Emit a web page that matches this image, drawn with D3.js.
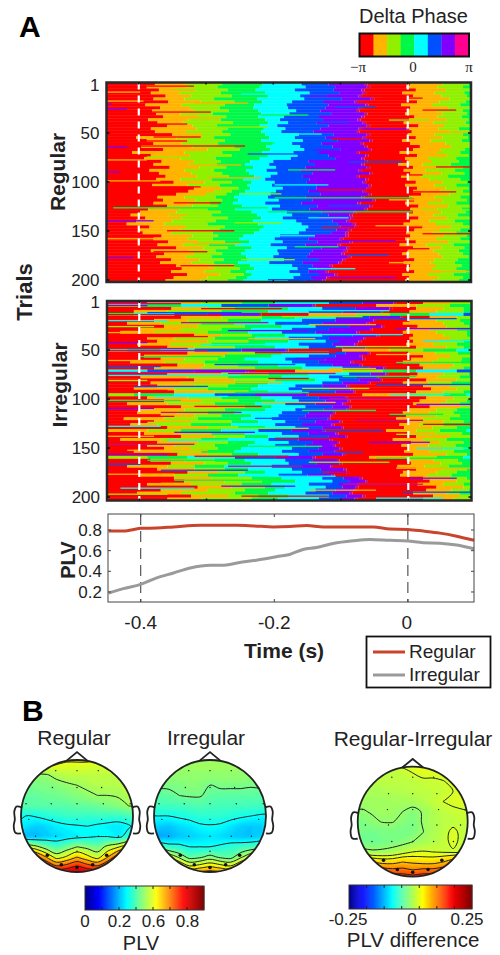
<!DOCTYPE html>
<html>
<head>
  <meta charset="utf-8" />
  <title>Delta phase and PLV</title>
  <script src="https://cdnjs.cloudflare.com/ajax/libs/d3/7.8.5/d3.min.js"></script>
  <style>
    body { margin: 0; background: #fff; }
    text { font-family: "Liberation Sans", Arial, sans-serif; fill: #222; }
  </style>
</head>
<body>
<div id="chart"></div>
<script>
// phase bands, red first. -pi .. pi
var phaseColors = ["#ff0000", "#ffb400", "#90f000", "#00f848", "#00ffff", "#0050ff", "#8000ff", "#ff0090"];
var rasterColors = ["#ff0000", "#ffb400", "#90f000", "#00f848", "#00ffff", "#0050ff", "#8000ff", "#c01088"];

// edges of the phase bands per row of 3 trials, ms after start of the window
var regularRows = [
  [72,118,172,232,290,330,383,388,452,500,538],[60,120,165,228,296,340,387,392,446,492,530],[78,132,180,222,280,338,379,384,460,505,540],
  [66,108,170,236,302,346,381,386,440,488,532],[88,126,186,240,288,328,375,380,456,498,536],[70,116,160,224,294,350,393,398,450,510,542],
  [92,140,190,232,276,322,369,374,462,495,534],[58,112,176,220,268,330,385,390,438,484,526],[80,124,168,218,270,326,375,380,452,508,540],
  [68,130,182,226,282,318,371,376,448,490,530],[74,110,158,230,272,334,383,388,444,500,536],[84,136,178,226,264,316,379,384,458,492,528],
  [62,122,170,236,258,322,373,378,450,506,538],[76,114,188,240,270,312,381,386,442,486,534],[90,128,164,228,254,330,387,392,464,502,541],
  [66,134,180,234,266,318,375,380,446,494,524],[72,118,172,230,260,308,371,376,454,510,539],[98,142,184,236,286,338,387,392,448,488,530],
  [44,104,160,242,280,326,381,386,460,500,537],[60,120,176,230,292,344,391,396,440,482,528],[70,112,166,246,276,320,377,382,452,504,540],
  [52,128,190,238,288,336,383,388,466,512,542],[84,150,198,244,294,348,389,394,456,496,533],[38,116,172,232,278,316,371,376,436,490,526],
  [66,124,186,240,284,330,385,390,462,506,538],[56,110,162,228,274,340,379,384,444,478,520],[82,130,170,214,248,300,383,388,450,484,524],
  [70,122,164,206,242,310,379,384,434,470,512],[94,138,178,218,252,296,387,392,456,492,530],[64,116,160,208,238,288,375,380,442,474,518],
  [78,126,172,212,254,306,391,396,452,498,532],[88,134,182,220,244,292,371,376,438,468,508],[74,110,156,204,236,302,385,390,448,480,526],
  [100,146,186,216,250,298,381,386,460,500,536],[68,120,168,210,246,312,389,394,444,488,520],[130,170,196,214,262,312,387,392,462,504,538],
  [122,160,186,206,252,300,381,386,456,496,530],[104,148,178,198,244,318,389,394,468,510,542],[76,116,162,190,240,296,379,384,450,488,526],
  [84,132,172,196,256,306,395,400,458,500,536],[70,120,154,188,236,290,373,378,444,478,520],[90,128,166,202,258,314,391,396,464,508,540],
  [62,108,150,192,246,302,383,388,452,492,528],[50,104,170,216,268,320,367,372,456,498,534],[36,92,156,224,276,330,361,366,448,486,522],
  [58,112,180,230,262,316,363,368,464,506,540],[44,98,162,218,282,336,357,362,452,480,518],[30,86,150,226,290,344,365,370,442,490,530],
  [64,118,176,234,300,348,369,374,470,512,542],[48,110,168,228,296,342,359,364,458,496,526],[54,96,158,220,286,334,355,360,446,484,520],
  [82,128,166,204,258,310,355,360,452,502,536],[70,120,158,198,250,300,347,352,444,490,526],[92,136,176,212,262,314,361,366,460,508,540],
  [76,114,152,192,244,296,343,348,436,476,516],[104,144,180,216,268,320,357,362,456,498,532],[66,124,162,206,254,306,353,358,448,486,524],
  [86,130,172,200,256,302,349,354,440,494,530],[74,118,156,208,248,298,359,364,450,500,538],[96,138,174,210,264,316,351,356,458,488,522],
  [80,126,160,196,242,292,345,350,442,482,518],[104,152,190,214,276,306,331,336,452,490,528],[112,160,198,220,284,312,335,340,446,484,520],
  [96,146,184,208,272,300,325,330,458,498,534],[120,168,204,216,288,316,339,344,440,478,516],[100,150,192,210,278,304,327,332,450,494,530],
  [88,140,180,204,270,296,321,326,444,486,524]
];

var irregularRows = [
  [60,140,200,250,330,380,426,430,470,510,540],[0,0,50,110,170,240,306,310,400,460,510,540],[96,150,190,270,320,370,420,424,460,500,530],
  [40,90,170,240,300,350,406,410,450,490,530],[0,0,0,40,100,150,226,230,300,370,420,480,530],[110,170,230,280,340,390,436,440,480,520],
  [70,120,180,230,290,340,396,400,450,490,525],[30,80,140,190,250,320,386,390,440,500,530],[85,135,205,260,310,360,408,412,462,505,538],
  [50,110,170,215,275,330,391,395,445,480,520],[20,70,150,210,260,310,371,375,440,490,535],[130,170,215,265,320,365,401,405,455,500,535],
  [60,100,160,220,270,330,381,385,450,510,540],[75,150,210,270,325,345,374,378,455,495,530],[45,95,155,235,285,335,368,372,445,485,520],
  [90,130,190,250,300,350,384,388,460,505,530],[0,0,30,80,130,200,266,270,350,420,470,520],[120,180,220,260,330,355,388,392,448,488,522],
  [55,125,175,245,300,340,376,380,470,510,540],[80,115,165,205,265,325,380,384,452,492,528],[35,85,145,225,275,315,362,366,440,484,526],
  [105,145,195,255,295,335,376,380,465,515,542],[70,140,220,290,350,390,411,415,470,510,530],[0,0,0,0,60,130,206,210,280,350,410,460,520],
  [90,170,240,300,360,392,414,418,462,500,538],[50,120,180,260,330,370,400,404,450,492,524],[130,190,250,310,345,375,406,410,475,520],
  [65,110,190,240,320,350,388,392,440,478,512],[75,130,180,225,280,320,356,360,470,510,540],[40,100,150,215,270,330,362,366,482,520],
  [100,160,210,240,290,340,366,370,460,500,530],[0,0,40,100,160,220,296,300,380,450,500,535],[60,120,170,230,275,315,354,358,475,515,540],
  [85,140,195,250,285,325,358,362,465,505,535],[30,90,160,220,265,310,350,354,455,495,525],[110,165,205,245,295,335,360,364,480,525],
  [50,115,175,235,280,322,356,360,450,490,520],[45,105,150,190,260,300,336,340,440,480,515],[80,130,170,215,255,295,332,336,445,490,525],
  [25,85,135,200,245,285,328,332,430,470,510],[70,125,185,225,265,310,346,350,450,500,530],[35,75,125,185,250,290,334,338,435,465,500],
  [90,150,195,235,280,320,348,352,442,484,520],[0,60,110,170,225,275,321,325,415,460,495,535],[55,110,155,205,260,300,340,344,448,488,528],
  [110,160,205,240,285,330,354,358,460,510,540],[20,80,140,180,240,285,331,335,425,470,505],[75,135,180,220,270,305,342,346,452,495,530],
  [60,100,160,210,250,295,336,340,438,478,518],[85,125,165,200,275,315,346,350,450,500,530],[40,95,140,190,260,300,338,342,442,480,516],
  [105,150,185,225,285,320,350,354,455,505,535],[0,0,60,120,190,250,306,310,390,445,490,530],[65,115,160,205,265,305,342,346,446,486,522],
  [95,145,180,215,270,312,346,350,452,496,528],[30,90,130,175,245,290,332,336,432,472,508],[75,130,175,210,275,318,352,356,460,498,535],
  [120,165,205,235,290,330,356,360,440,490,520],[50,100,150,195,255,298,334,338,436,476,512],[100,155,215,260,320,352,376,380,470,510,535],
  [115,175,230,280,335,360,384,388,480,520],[60,125,200,245,300,345,372,376,462,500,530],[135,185,235,265,325,350,370,374,490,530],
  [80,150,205,250,310,340,366,370,475,512,538],[45,110,190,240,295,335,361,365,455,505,525],[125,180,225,270,330,356,380,384,485,525],
  [90,140,215,255,315,348,368,372,470,515,540]
];

// single trials that stick out of the rows: trial, from ms, to ms, band
var regularStreaks = [
  [4,60,130,0],[7,100,160,2],[10,0,50,1],[12,200,270,4],[14,300,350,6],[16,410,470,0],[19,0,55,1],[21,130,210,1],[22,0,8,6],[25,340,400,5],
  [27,0,30,6],[28,470,520,0],[30,0,155,0],[33,230,300,3],[36,90,170,1],[38,420,480,2],[40,290,360,5],[42,0,120,0],[45,160,240,2],[47,380,450,6],
  [50,470,542,1],[52,250,320,4],[55,70,140,0],[57,335,380,0],[59,0,120,0],[61,180,250,3],[64,0,206,0],[65,0,30,6],[68,310,390,6],[70,440,500,1],
  [72,210,290,5],[75,60,110,2],[78,0,60,1],[80,360,440,5],[83,120,200,1],[85,490,542,0],[88,270,340,3],[90,0,20,6],[93,395,470,0],[96,150,230,1],
  [99,0,80,1],[103,250,330,4],[105,60,140,0],[108,315,400,0],[110,440,520,0],[112,200,260,2],[116,250,455,3],[118,420,500,1],[121,100,170,0],[124,330,390,5],
  [126,10,240,3],[128,470,542,2],[130,240,455,3],[133,60,120,1],[136,300,360,4],[139,0,70,6],[141,190,260,2],[144,400,470,1],[146,320,380,0],[149,90,190,0],
  [152,470,542,0],[154,230,310,4],[157,0,90,1],[159,350,430,6],[162,130,200,1],[165,280,345,3],[167,440,480,0],[170,70,150,0],[173,360,420,5],[176,0,40,6],
  [178,200,280,2],[181,420,470,1],[184,110,190,0],[187,300,370,4],[190,480,542,1],[193,0,110,0],[196,330,430,6],[198,240,310,5]
];
var irregularStreaks = [
  [3,0,110,7],[5,0,60,6],[8,140,260,0],[10,300,420,4],[12,60,200,5],[14,0,170,0],[16,260,380,2],[18,400,520,5],[20,0,90,4],[22,110,240,7],
  [24,300,400,1],[26,0,70,2],[28,430,542,6],[30,180,300,6],[32,0,130,1],[34,320,440,4],[36,60,150,0],[38,210,310,1],[40,470,542,4],[42,0,60,6],
  [44,140,260,4],[46,340,450,2],[48,0,120,7],[50,0,150,7],[52,220,340,0],[54,400,480,1],[56,50,170,3],[58,280,360,6],[60,0,110,1],[62,430,542,3],
  [64,160,280,5],[66,0,80,5],[68,330,400,1],[70,90,220,6],[72,0,170,7],[73,180,340,7],[75,0,200,4],[76,350,460,3],[78,240,300,0],[80,0,60,2],
  [82,110,260,1],[84,400,542,5],[86,40,150,5],[88,290,390,2],[90,0,90,0],[92,190,300,3],[94,420,510,4],[96,70,180,4],[98,330,450,7],[100,0,110,3],
  [102,230,340,1],[104,460,542,6],[106,130,230,0],[108,0,70,6],[110,290,400,3],[112,80,200,7],[114,420,500,3],[116,0,100,0],[118,220,330,5],[120,370,470,7],
  [122,60,160,2],[124,470,542,0],[126,0,80,4],[128,180,300,2],[130,320,410,5],[132,100,220,6],[134,430,520,2],[136,0,70,1],[138,250,350,0],[140,90,200,4],
  [142,390,480,6],[144,0,130,7],[146,210,320,3],[148,460,542,4],[150,30,150,1],[152,280,380,5],[154,0,90,6],[156,130,270,0],[158,400,500,3],[160,60,170,3],
  [162,300,420,2],[164,0,50,5],[166,180,290,7],[168,430,542,1],[170,80,210,5],[172,320,440,0],[174,0,100,1],[176,240,340,4],[178,450,520,6],[180,100,230,3],
  [182,0,80,0],[184,350,470,7],[186,170,280,6],[188,20,130,4],[190,300,400,1],[192,440,542,5],[194,0,90,2],[196,200,330,0],[198,400,500,4]
];

// PLV time courses
var regularTime = [-0.448,-0.426,-0.4,-0.376,-0.351,-0.311,-0.256,-0.231,-0.2015,-0.1766,-0.1516,-0.1267,-0.0768,-0.052,-0.027,0,0.023,0.048,0.073,0.099];
var regularPlv = [0.79,0.79,0.816,0.82,0.83,0.846,0.846,0.84,0.83,0.834,0.844,0.83,0.83,0.83,0.81,0.806,0.79,0.77,0.74,0.70];
var irregularTime = [-0.448,-0.426,-0.4,-0.376,-0.351,-0.326,-0.296,-0.279,-0.252,-0.227,-0.197,-0.177,-0.157,-0.137,-0.112,-0.082,-0.057,-0.027,0,0.023,0.048,0.073,0.099];
var irregularPlv = [0.19,0.232,0.274,0.336,0.384,0.433,0.459,0.459,0.485,0.508,0.541,0.563,0.612,0.631,0.67,0.696,0.709,0.70,0.693,0.677,0.673,0.654,0.618];
var plvTicks = [0.2, 0.4, 0.6, 0.8];
var timeTicks = [-0.4, -0.2, 0];
var timeLabels = ["-0.4", "-0.2", "0"];
var trialTicks = [1, 50, 100, 150, 200];

// scalp maps, 13 x 13 grid covering the head, top row is the front
var regularMap = [
  [.56,.56,.56,.56,.56,.56,.56,.56,.55,.54,.53,.52,.52],
  [.55,.55,.55,.54,.53,.52,.52,.52,.51,.51,.50,.50,.50],
  [.44,.44,.45,.455,.475,.49,.49,.49,.49,.49,.49,.49,.49],
  [.42,.42,.43,.43,.44,.45,.46,.47,.48,.48,.48,.48,.48],
  [.41,.41,.41,.42,.42,.43,.44,.45,.46,.46,.465,.48,.48],
  [.40,.40,.40,.40,.40,.40,.41,.41,.42,.43,.44,.46,.47],
  [.34,.33,.335,.35,.36,.37,.37,.37,.37,.37,.37,.38,.39],
  [.33,.30,.28,.29,.31,.32,.325,.33,.32,.31,.30,.32,.36],
  [.30,.26,.26,.28,.29,.30,.31,.32,.33,.33,.31,.36,.42],
  [.55,.52,.48,.42,.38,.42,.46,.44,.42,.48,.52,.58,.62],
  [.85,.78,.70,.60,.50,.54,.60,.55,.50,.60,.72,.80,.85],
  [.88,.86,.84,.78,.70,.72,.76,.72,.70,.78,.84,.86,.88],
  [.90,.90,.90,.90,.88,.88,.88,.88,.88,.90,.90,.90,.90]
];
var irregularMap = [
  [.47,.47,.47,.47,.47,.47,.47,.47,.47,.47,.47,.47,.47],
  [.46,.46,.46,.46,.46,.46,.46,.46,.46,.46,.46,.46,.46],
  [.44,.44,.45,.45,.45,.45,.45,.45,.45,.45,.45,.45,.45],
  [.43,.43,.43,.43,.44,.44,.42,.43,.43,.43,.425,.43,.43],
  [.40,.40,.405,.42,.425,.425,.405,.40,.40,.40,.40,.40,.40],
  [.38,.38,.38,.38,.385,.39,.385,.38,.38,.38,.38,.38,.38],
  [.32,.33,.33,.34,.35,.36,.36,.36,.35,.34,.33,.32,.31],
  [.29,.28,.27,.29,.30,.32,.325,.32,.30,.28,.27,.28,.30],
  [.27,.24,.25,.27,.28,.29,.30,.29,.28,.27,.27,.28,.30],
  [.40,.40,.36,.35,.33,.33,.33,.34,.36,.37,.38,.40,.42],
  [.56,.54,.52,.46,.40,.41,.44,.41,.40,.46,.52,.54,.56],
  [.66,.64,.62,.60,.54,.56,.58,.56,.54,.60,.64,.66,.68],
  [.72,.72,.72,.72,.70,.70,.70,.70,.70,.72,.72,.72,.72]
];
var diffMap = [
  [.04,.04,.04,.04,.04,.04,.04,.04,.04,.04,.04,.04,.04],
  [.02,.02,.02,.02,.02,.025,.032,.04,.04,.04,.04,.04,.04],
  [.015,.015,.015,.02,.02,.02,.02,.025,.025,.029,.035,.04,.04],
  [.01,.01,.01,.012,.015,.015,.018,.02,.022,.025,.03,.04,.04],
  [.006,.006,.006,.006,.008,.008,.01,.015,.022,.03,.035,.037,.04],
  [0,-.002,.002,.005,.004,0,-.008,.002,.012,.02,.025,.028,.031],
  [-.01,-.012,-.004,.001,.001,-.006,-.012,.002,.012,.018,.02,.024,.025],
  [-.012,-.015,-.016,-.014,-.012,-.016,-.012,-.001,.012,.018,.038,.02,.02],
  [-.015,-.018,-.02,-.016,-.012,-.008,0,.008,.014,.02,.038,.02,.02],
  [.02,.01,.005,.006,.01,.02,.03,.032,.03,.028,.026,.026,.026],
  [.12,.10,.08,.07,.07,.08,.075,.07,.07,.08,.10,.12,.12],
  [.18,.16,.15,.14,.13,.13,.12,.13,.13,.14,.15,.16,.18],
  [.20,.20,.20,.20,.20,.19,.19,.19,.20,.20,.20,.20,.20]
];
var regularLevels = [.33,.46,.53,.60,.67,.74,.81];
var irregularLevels = [.33,.42,.47,.52,.57,.62,.67];
var diffLevels = [0,.03,.05,.08,.11,.14,.17];

// electrodes, in head radii from the centre
var elecX = [-.38,0,.38,-.44,0,.44,-.91,-.46,0,.47,.95,-.86,-.44,0,.44,.87,-.74,-.38,0,.38,.74,0,-.53,.53,-.28,.28,0];
var elecY = [-.81,-.81,-.81,-.51,-.51,-.51,-.22,-.22,-.22,-.22,-.22,.06,.06,.06,.06,.06,.36,.36,.36,.36,.36,.63,.70,.70,.87,.87,.92];
var elecBig = [22, 23, 24, 25, 26];

var earX = [.98,1.08,1.12,1.11,1.13,1.10,1.0];
var earY = [-.15,-.17,-.08,.06,.18,.30,.31];
var noseX = [-.19,0,.19];
var noseY = [-.985,-1.14,-.985];

var plvBarTicks = ["0", "", "0.2", "", "0.6", "", "0.8"];
var diffBarLabels = ["-0.25", "0", "0.25"];

var jet = d3.scaleLinear()
  .domain([0, 0.11, 0.35, 0.6, 0.83, 1])
  .range(["#00008f", "#0000ff", "#00ffff", "#ffff00", "#ff0000", "#800000"])
  .clamp(true);

var svg = d3.select("#chart").append("svg")
  .attr("width", 500)
  .attr("height", 955)
  .style("display", "block");

var defs = svg.append("defs");
defs.append("filter").attr("id", "soft")
  .attr("x", 0).attr("y", 0).attr("width", 1).attr("height", 1)
  .append("feGaussianBlur").attr("stdDeviation", 0.4);
defs.append("filter").attr("id", "softer")
  .append("feGaussianBlur").attr("stdDeviation", 1.2);

function label(x, y, str, size, opts) {
  opts = opts || {};
  var t = svg.append("text")
    .attr("x", x).attr("y", y)
    .attr("font-size", size)
    .attr("font-weight", opts.bold ? "bold" : null)
    .attr("text-anchor", opts.anchor || "middle")
    .text(str);
  if (opts.rotate) t.attr("transform", "rotate(-90 " + x + " " + y + ")");
  if (opts.family) t.style("font-family", opts.family);
  return t;
}

// raster panel
function raster(rows, streaks, left, right, top, bottom, trialRange) {
  var x = d3.scaleLinear().domain([0, 542]).range([left, right]);
  var t = d3.scaleLinear().domain([-0.448, 0.094]).range([left, right]);
  var y = d3.scaleBand().domain(d3.range(rows.length)).range([top, bottom]);
  var trial = d3.scaleLinear().domain([1, 200]).range(trialRange);
  var trialY = d3.scaleLinear().domain([1, 200]).range([top, bottom - 1]);

  var g = svg.append("g");
  var marks = g.append("g").attr("filter", "url(#soft)");
  var rowG = marks.append("g")
    .selectAll("g").data(rows).enter().append("g")
    .attr("transform", function(d, i) { return "translate(0," + y(i) + ")"; });

  rowG.selectAll("rect")
    .data(function(d) {
      var edges = [0].concat(d, [542]);
      return d3.range(edges.length - 1).map(function(i) {
        return { from: edges[i], to: edges[i + 1], band: i % rasterColors.length };
      });
    })
    .enter().append("rect")
    .attr("x", function(d) { return x(d.from); })
    .attr("width", function(d) { return Math.max(0, x(d.to) - x(d.from)); })
    .attr("height", y.bandwidth() + 0.4)
    .attr("fill", function(d) { return rasterColors[d.band]; });

  marks.append("g").selectAll("rect").data(streaks).enter().append("rect")
    .attr("x", function(d) { return x(d[1]); })
    .attr("y", function(d) { return trialY(d[0]); })
    .attr("width", function(d) { return x(d[2]) - x(d[1]); })
    .attr("height", 1.3)
    .attr("fill", function(d) { return rasterColors[d[3]]; });

  // cue markers
  g.selectAll(".cue").data([-0.4, 0]).enter().append("line")
    .attr("x1", t).attr("x2", t)
    .attr("y1", top).attr("y2", bottom)
    .attr("stroke", "#fff").attr("stroke-width", 2.2)
    .attr("stroke-dasharray", "7,6");

  g.append("rect")
    .attr("x", left).attr("y", top)
    .attr("width", right - left).attr("height", bottom - top)
    .attr("fill", "none").attr("stroke", "#2a2a2a").attr("stroke-width", 2.5);

  // small ticks on the frame
  g.selectAll(".tl").data(trialTicks.slice(1)).enter().append("path")
    .attr("d", function(d) {
      var p = Math.min(trial(d), bottom);
      return "M" + left + "," + p + "h3M" + right + "," + p + "h-3";
    })
    .attr("stroke", "#111").attr("stroke-width", 1.5);
  g.selectAll(".tt").data([-0.4, -0.3, -0.2, -0.1, 0]).enter().append("path")
    .attr("d", function(d) { return "M" + t(d) + "," + top + "v2M" + t(d) + "," + bottom + "v-2"; })
    .attr("stroke", "#111").attr("stroke-width", 1.5);

  trialTicks.forEach(function(d) {
    label(left - 7, trial(d) + 6, d, 17, { anchor: "end" });
  });
}

raster(regularRows, regularStreaks, 106.5, 471, 82.5, 282, [85, 280]);
raster(irregularRows, irregularStreaks, 107, 471.5, 301, 500.5, [302, 497]);

// PLV panel
var plvX = d3.scaleLinear().domain([-0.449, 0.099]).range([108, 474]);
var plvY = d3.scaleLinear().domain([0.103, 0.955]).range([602, 514]);

var plvG = svg.append("g");
plvG.selectAll(".cue").data([-0.4, 0]).enter().append("line")
  .attr("x1", plvX).attr("x2", plvX)
  .attr("y1", 514).attr("y2", 602)
  .attr("stroke", "#333").attr("stroke-width", 1)
  .attr("stroke-dasharray", "11,6");

var plvLine = d3.line()
  .x(function(d) { return plvX(d[0]); })
  .y(function(d) { return plvY(d[1]); })
  .curve(d3.curveMonotoneX);

plvG.append("path")
  .attr("d", plvLine(d3.zip(irregularTime, irregularPlv)))
  .attr("fill", "none").attr("stroke", "#9a9a9a").attr("stroke-width", 3);
plvG.append("path")
  .attr("d", plvLine(d3.zip(regularTime, regularPlv)))
  .attr("fill", "none").attr("stroke", "#c9442c").attr("stroke-width", 3);

plvG.append("rect")
  .attr("x", 108).attr("y", 514).attr("width", 366).attr("height", 88)
  .attr("fill", "none").attr("stroke", "#444").attr("stroke-width", 1);

plvG.selectAll(".yt").data(plvTicks).enter().append("path")
  .attr("d", function(d) { return "M108," + plvY(d) + "h3M474," + plvY(d) + "h-3"; })
  .attr("stroke", "#444");
plvG.selectAll(".xt").data(timeTicks).enter().append("path")
  .attr("d", function(d) { return "M" + plvX(d) + ",514v3M" + plvX(d) + ",602v-3"; })
  .attr("stroke", "#444");

plvTicks.forEach(function(d) {
  label(102, plvY(d) + 6, d3.format(".1f")(d), 17, { anchor: "end" });
});
timeTicks.forEach(function(d, i) {
  label(plvX(d) - (d === 0 ? 1 : 0), 629, timeLabels[i], 19);
});

label(75, 560, "PLV", 20, { bold: true, rotate: true });
label(284, 658, "Time (s)", 21, { bold: true });
label(65, 172, "Regular", 21, { bold: true, rotate: true });
label(67, 385, "Irregular", 21, { bold: true, rotate: true });
label(32, 292, "Trials", 22, { bold: true, rotate: true });
label(19, 37, "A", 30, { bold: true, anchor: "start" }).style("fill", "#000");
label(22, 721, "B", 30, { bold: true, anchor: "start" }).style("fill", "#000");

// legend
svg.append("rect")
  .attr("x", 366.5).attr("y", 636.5).attr("width", 124).attr("height", 51)
  .attr("fill", "#fff").attr("stroke", "#111").attr("stroke-width", 1.8);
[["Regular", "#c9442c", 652], ["Irregular", "#9a9a9a", 675]].forEach(function(d) {
  svg.append("line").attr("x1", 373).attr("x2", 405).attr("y1", d[2]).attr("y2", d[2])
    .attr("stroke", d[1]).attr("stroke-width", 3);
  label(409, d[2] + 6, d[0], 19, { anchor: "start" });
});

// phase colorbar
var phaseX = d3.scaleBand().domain(d3.range(phaseColors.length)).range([360, 468.5]);
svg.selectAll(".phase").data(phaseColors).enter().append("rect")
  .attr("x", function(d, i) { return phaseX(i); })
  .attr("y", 34).attr("width", phaseX.bandwidth() + 0.3).attr("height", 22)
  .attr("fill", function(d) { return d; });
svg.append("rect").attr("x", 359.5).attr("y", 33.5).attr("width", 109.5).attr("height", 23)
  .attr("fill", "none").attr("stroke", "#111").attr("stroke-width", 2);
label(413.5, 23, "Delta Phase", 20);
label(358, 72, "\u2212\u03c0", 15, { family: "'Liberation Serif', serif" });
label(413, 72, "0", 15, { family: "'Liberation Serif', serif" });
label(469, 72, "\u03c0", 15, { family: "'Liberation Serif', serif" });

// scalp maps
var mapId = 0;
function scalp(values, cx, cy, r, extent, levels) {
  var n = values.length;
  var flat = d3.merge(values);
  var head = d3.scaleLinear().domain([-1, 1]).range([-r, r]);
  var px = d3.scaleLinear().domain([0.5, n - 0.5]).range([cx - 1.1 * r, cx + 1.1 * r]);
  var py = d3.scaleLinear().domain([0.5, n - 0.5]).range([cy - 1.1 * r, cy + 1.1 * r]);
  var norm = d3.scaleLinear().domain(extent).range([0, 1]);
  var clipId = "head" + (mapId++);

  defs.append("clipPath").attr("id", clipId)
    .append("circle").attr("cx", cx).attr("cy", cy).attr("r", r);

  var g = svg.append("g");
  var inner = g.append("g").attr("clip-path", "url(#" + clipId + ")");
  var fillG = inner.append("g").attr("filter", "url(#softer)");

  var path = d3.geoPath(d3.geoTransform({
    point: function(a, b) { this.stream.point(px(a), py(b)); }
  }));
  var lo = d3.min(flat), hi = d3.max(flat);
  var steps = d3.range(0, 48).map(function(i) { return lo + (hi - lo) * i / 47; });

  fillG.append("rect").attr("x", cx - r - 5).attr("y", cy - r - 5)
    .attr("width", 2 * r + 10).attr("height", 2 * r + 10)
    .attr("fill", jet(norm(lo)));
  fillG.selectAll("path")
    .data(d3.contours().size([n, n]).thresholds(steps)(flat))
    .enter().append("path")
    .attr("d", path)
    .attr("fill", function(d) { return jet(norm(d.value)); });

  // contour lines
  var ringLine = d3.line()
    .x(function(d) { return px(d[0]); })
    .y(function(d) { return py(d[1]); })
    .curve(d3.curveCatmullRomClosed);
  d3.contours().size([n, n]).thresholds(levels)(flat).forEach(function(c) {
    c.coordinates.forEach(function(poly) {
      poly.forEach(function(ring) {
        inner.append("path")
          .attr("d", ringLine(ring.slice(0, -1)))
          .attr("fill", "none").attr("stroke", "#222").attr("stroke-width", 1);
      });
    });
  });

  // electrodes
  g.selectAll("circle.el").data(elecX).enter().append("circle")
    .attr("class", "el")
    .attr("cx", function(d) { return cx + head(d); })
    .attr("cy", function(d, i) { return cy + head(elecY[i]); })
    .attr("r", function(d, i) { return elecBig.indexOf(i) >= 0 ? 1.8 : 0.7; })
    .attr("fill", "#111");

  // outline, nose, ears
  g.append("circle").attr("cx", cx).attr("cy", cy).attr("r", r)
    .attr("fill", "none").attr("stroke", "#222").attr("stroke-width", 1.8);
  var outline = d3.line().curve(d3.curveCatmullRom);
  g.append("path")
    .attr("d", d3.line()(noseX.map(function(d, i) { return [cx + head(d), cy + head(noseY[i])]; })))
    .attr("fill", "none").attr("stroke", "#222").attr("stroke-width", 1.8);
  [-1, 1].forEach(function(side) {
    g.append("path")
      .attr("d", outline(earX.map(function(d, i) { return [cx + side * head(d), cy + head(earY[i])]; })))
      .attr("fill", "none").attr("stroke", "#222").attr("stroke-width", 1.8);
  });
}

scalp(regularMap, 77, 816, 56, [0, 0.9], regularLevels);
scalp(irregularMap, 210, 816, 56, [0, 0.9], irregularLevels);
scalp(diffMap, 412.7, 821.7, 55, [-0.25, 0.25], diffLevels);

label(74, 745, "Regular", 21);
label(206, 745, "Irregular", 21);
label(413, 746, "Regular-Irregular", 21);

// scalp colorbars
function colorbar(x0, x1, y0, y1, tickCount) {
  var grad = d3.range(0, 120);
  var bx = d3.scaleLinear().domain([0, 120]).range([x0, x1]);
  svg.append("g").selectAll("rect").data(grad).enter().append("rect")
    .attr("x", function(d) { return bx(d); })
    .attr("y", y0).attr("width", bx(1) - bx(0) + 0.4).attr("height", y1 - y0)
    .attr("fill", function(d) { return jet(d / 119); });
  svg.append("rect").attr("x", x0).attr("y", y0).attr("width", x1 - x0).attr("height", y1 - y0)
    .attr("fill", "none").attr("stroke", "#333").attr("stroke-width", 1);
  var tx = d3.scaleLinear().domain([0, tickCount]).range([x0, x1]);
  svg.append("g").selectAll("path").data(d3.range(1, tickCount)).enter().append("path")
    .attr("d", function(d) { return "M" + tx(d) + "," + y0 + "v3M" + tx(d) + "," + y1 + "v-3"; })
    .attr("stroke", "#222");
}

colorbar(85, 204, 886, 910, 7);
colorbar(349, 472, 885, 909, 7);

var plvBarX = d3.scaleLinear().domain([0, 7]).range([85, 204]);
plvBarTicks.forEach(function(d, i) {
  if (d) label(plvBarX(i) + (i === 0 ? 0 : 0.5), 927, d, 17);
});
label(348, 925, diffBarLabels[0], 17);
label(412, 925, diffBarLabels[1], 17);
label(467, 925, diffBarLabels[2], 17);
label(141, 950, "PLV", 20);
label(413, 947, "PLV difference", 20.5);
</script>
</body>
</html>
